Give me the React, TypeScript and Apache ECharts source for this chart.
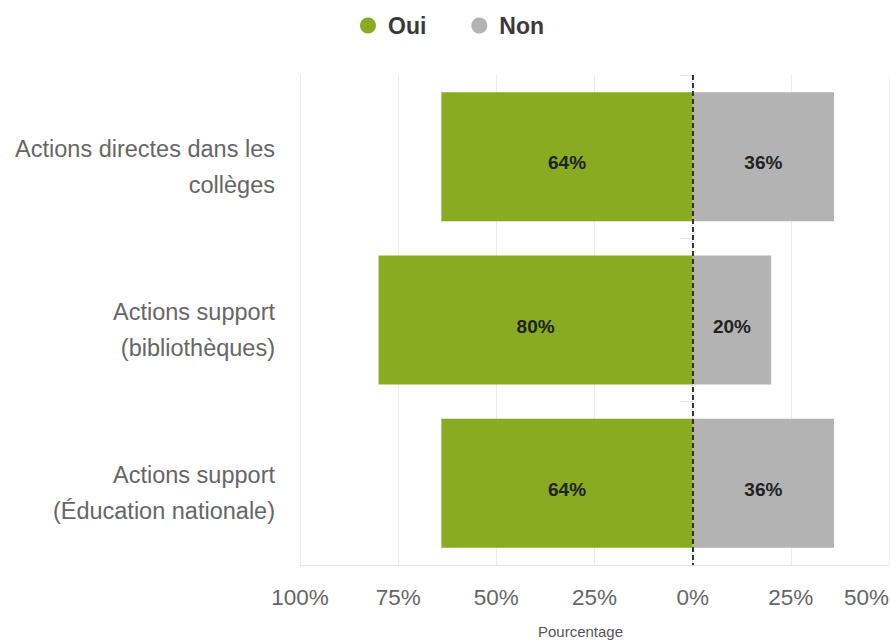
import React, { useEffect, useRef } from "react";
import * as echarts from "echarts";

const categories = [
  ["Actions directes dans les", "collèges"],
  ["Actions support", "(bibliothèques)"],
  ["Actions support", "(Éducation nationale)"],
];
const categoryNames = categories.map((c) => c.join(" "));
const ouiValues = [64, 80, 64];
const nonValues = [36, 20, 36];
const xTicks = [-100, -75, -50, -25, 0, 25, 50];

export default function App() {
  const ref = useRef<HTMLDivElement>(null);
  useEffect(() => {
    if (!ref.current) return;
    const chart = echarts.init(ref.current, null, { renderer: "svg" });
    const font = "Liberation Sans, Arial, sans-serif";
    const barLabel = {
      show: true,
      position: "inside",
      fontSize: 19,
      fontWeight: "bold",
      color: "#222",
      offset: [0, 6],
      formatter: (p: any) => Math.abs(p.value) + "%",
    };
    chart.setOption({
      animation: false,
      textStyle: { fontFamily: font },
      legend: {
        top: 9,
        left: 355,
        itemGap: 45,
        icon: "circle",
        itemWidth: 30,
        itemHeight: 16,
        textStyle: { fontSize: 23, fontWeight: "bold", color: "#3a3a3a", fontFamily: font },
        data: ["Oui", "Non"],
      },
      grid: {
        left: 300,
        right: 1,
        top: 75,
        bottom: 76,
        containLabel: false,
        outerBoundsMode: "none",
      },
      xAxis: {
        type: "value",
        min: xTicks[0],
        max: xTicks[xTicks.length - 1],
        interval: 25,
        name: "Pourcentage",
        nameLocation: "middle",
        nameGap: 59,
        nameTextStyle: { fontSize: 15, color: "#555", fontFamily: font, padding: [0, 28, 0, 0] },
        axisLine: { show: true, lineStyle: { color: "#e3e3e3" } },
        axisTick: { show: false },
        axisLabel: {
          fontSize: 22.5,
          color: "#666",
          margin: 21,
          alignMaxLabel: "right",
          formatter: (v: number) => Math.abs(v) + "%",
        },
        splitLine: { show: true, lineStyle: { color: "#ececec" } },
      },
      yAxis: {
        type: "category",
        inverse: true,
        data: categoryNames,
        axisLine: { show: true, lineStyle: { color: "#e3e3e3" } },
        axisTick: { show: true, length: 13, lineStyle: { color: "#e3e3e3" } },
        axisLabel: {
          color: "#666",
          margin: 25,
          align: "right",
          formatter: (_v: string, i: number) =>
            "{s| }\n" + categories[i].map((l) => "{t|" + l + "}").join("\n"),
          rich: {
            s: { fontSize: 10, lineHeight: 20 },
            t: { fontSize: 23.5, lineHeight: 36, color: "#666", fontFamily: font },
          },
        },
        splitLine: { show: false },
      },
      series: [
        {
          name: "Oui",
          type: "bar",
          stack: "total",
          barCategoryGap: "21%",
          data: ouiValues.map((v) => -v),
          itemStyle: { color: "#88ab21" },
          label: barLabel,
          markLine: {
            silent: true,
            symbol: "none",
            label: { show: false },
            lineStyle: { type: [5, 3], color: "#333", width: 2 },
            data: [{ xAxis: 0 }],
          },
        },
        {
          name: "Non",
          type: "bar",
          stack: "total",
          barCategoryGap: "21%",
          data: nonValues,
          itemStyle: { color: "#b3b3b3" },
          label: barLabel,
        },
      ],
    });
    return () => chart.dispose();
  }, []);
  return (
    <div
      ref={ref}
      style={{ position: "fixed", left: 0, top: 0, width: 890, height: 641, background: "#fff" }}
    />
  );
}
